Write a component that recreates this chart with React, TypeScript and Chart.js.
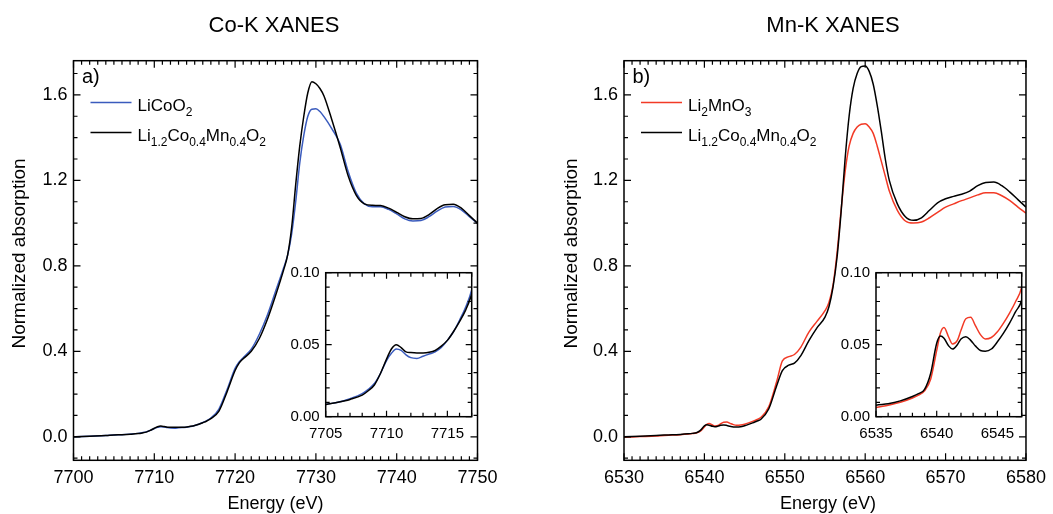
import React, { useEffect, useRef } from "react";
import { Chart, registerables } from "chart.js";

Chart.register(...registerables);
Chart.defaults.font.family = "'Liberation Sans', Arial, sans-serif";
Chart.defaults.color = "#000";

// ---------- Co-K XANES (panel a) ----------
const coEnergy = [
  7700, 7702, 7704, 7705, 7706, 7707, 7708, 7708.5, 7709, 7709.5, 7710,
  7710.4, 7710.8, 7711.2, 7711.6,
  7712, 7712.5, 7713, 7713.5, 7714, 7714.5, 7715, 7715.5, 7716, 7716.5, 7717,
  7718, 7719, 7720, 7720.5, 7721, 7722, 7723, 7724, 7725, 7726,
  7726.5, 7727, 7727.5, 7728, 7728.5, 7729, 7729.5, 7730, 7730.5, 7731,
  7732, 7733, 7734, 7735, 7736, 7737, 7738, 7739, 7740, 7741, 7742, 7743, 7744, 7745, 7746, 7747, 7748, 7749, 7750,
];
const coLiCoO2 = [
  0.0, 0.003, 0.006, 0.0085, 0.01, 0.0125, 0.016, 0.019, 0.023, 0.03, 0.039,
  0.044, 0.047, 0.046, 0.043,
  0.041, 0.0405, 0.042, 0.0435, 0.045, 0.048, 0.053, 0.059, 0.067, 0.076, 0.088,
  0.13, 0.22, 0.32, 0.35, 0.37, 0.41, 0.48, 0.57, 0.68, 0.79,
  0.85, 0.95, 1.1, 1.28, 1.41, 1.5, 1.533, 1.535, 1.522, 1.498,
  1.44, 1.37, 1.24, 1.14, 1.09, 1.077, 1.077, 1.064, 1.043, 1.02, 1.01, 1.012, 1.03, 1.056, 1.075, 1.078, 1.062, 1.03, 0.998,
];
const coLMR = [
  0.0, 0.003, 0.006, 0.0085, 0.01, 0.012, 0.015, 0.018, 0.022, 0.03, 0.04,
  0.047, 0.05, 0.048, 0.045,
  0.0445, 0.0443, 0.0443, 0.0447, 0.046, 0.049, 0.053, 0.059, 0.066, 0.074, 0.085,
  0.12, 0.21, 0.31, 0.345, 0.365, 0.4, 0.46, 0.55, 0.66, 0.78,
  0.85, 0.98, 1.18, 1.36, 1.5, 1.61, 1.662, 1.652, 1.63, 1.595,
  1.48, 1.355, 1.22, 1.13, 1.09, 1.083, 1.082, 1.07, 1.05, 1.03, 1.02, 1.022, 1.04, 1.068, 1.086, 1.088, 1.07, 1.035, 1.0,
];

// ---------- Mn-K XANES (panel b) ----------
const mnEnergy = [
  6530, 6532, 6534, 6535, 6536, 6537, 6538, 6538.5, 6539, 6539.5, 6540,
  6540.3, 6540.6, 6541, 6541.3, 6541.7, 6542, 6542.4, 6542.8, 6543.2, 6543.6, 6544,
  6544.5, 6545, 6545.5, 6546, 6546.5, 6547,
  6548, 6549, 6549.7, 6550.5, 6551.2, 6552, 6553, 6554, 6555,
  6555.5, 6556, 6556.5, 6557, 6557.5, 6558, 6558.5, 6559, 6559.5, 6560, 6560.5, 6561, 6561.5, 6562, 6562.5, 6563,
  6564, 6565, 6566, 6567, 6568, 6569, 6570, 6571, 6572, 6573, 6574, 6575, 6576, 6577, 6578, 6579, 6580,
];
const mnLi2MnO3 = [
  -0.002, 0.001, 0.004, 0.0063, 0.008, 0.01, 0.013, 0.015, 0.018, 0.026, 0.046,
  0.058, 0.062, 0.055, 0.0505, 0.053, 0.06, 0.068, 0.069, 0.063, 0.057, 0.054,
  0.055, 0.059, 0.065, 0.072, 0.08, 0.09,
  0.14, 0.26, 0.355, 0.375, 0.385, 0.42, 0.49, 0.54, 0.59,
  0.63, 0.71, 0.86, 1.06, 1.24, 1.36, 1.42, 1.45, 1.463, 1.465, 1.45, 1.42, 1.36, 1.29, 1.22, 1.15,
  1.06, 1.01, 1.0, 1.005, 1.025, 1.05, 1.075, 1.09, 1.105, 1.118, 1.132, 1.142, 1.142, 1.128, 1.105, 1.075, 1.047,
];
const mnLMR = [
  0.0, 0.003, 0.006, 0.008, 0.009, 0.011, 0.014, 0.016, 0.019, 0.03, 0.051,
  0.056, 0.0545, 0.049, 0.047, 0.05, 0.054, 0.0556, 0.053, 0.049, 0.046, 0.0455,
  0.047, 0.052, 0.058, 0.065, 0.073, 0.081,
  0.13, 0.24, 0.31, 0.335, 0.345, 0.38, 0.45, 0.51, 0.56,
  0.61, 0.7, 0.84, 1.05, 1.3, 1.5, 1.63, 1.7, 1.732, 1.735, 1.71, 1.65, 1.55, 1.43, 1.3, 1.2,
  1.09, 1.03, 1.013, 1.025, 1.06, 1.095, 1.114, 1.125, 1.135, 1.15, 1.175, 1.19, 1.192, 1.175, 1.145, 1.11, 1.075,
];

// ---------- texts ----------
const titleA = "Co-K XANES";
const titleB = "Mn-K XANES";
const xTitle = "Energy (eV)";
const yTitle = "Normalized absorption";
const panelA = "a)";
const panelB = "b)";
// legend labels as [text, isSubscript] pieces
const legLiCoO2: [string, boolean][] = [["LiCoO", false], ["2", true]];
const legLi2MnO3: [string, boolean][] = [["Li", false], ["2", true], ["MnO", false], ["3", true]];
const legLMR: [string, boolean][] = [["Li", false], ["1.2", true], ["Co", false], ["0.4", true], ["Mn", false], ["0.4", true], ["O", false], ["2", true]];

const BLUE = "#3a5bbd";
const RED = "#f23a26";
const BLACK = "#000000";

const W = 1053;
const H = 514;
const FONT = "'Liberation Sans', Arial, sans-serif";

type Spec = {
  area: { l: number; t: number; r: number; b: number };
  xMin: number; xMax: number; xStep: number; xMinor: number;
  yMin: number; yMax: number; yStep: number; yMinor: number;
  yDec: number; tickFont: number; xPad: number; yPad: number;
  majorLen: number; minorLen: number; frameLw: number;
  whiteFill?: boolean;
  extra?: (ctx: CanvasRenderingContext2D, chart: any) => void;
};

function drawRich(ctx: CanvasRenderingContext2D, x: number, baseline: number, parts: [string, boolean][], size: number, subSize: number, subDrop: number) {
  let cx = x;
  ctx.textAlign = "left";
  ctx.textBaseline = "alphabetic";
  for (const [t, s] of parts) {
    ctx.font = `${s ? subSize : size}px ${FONT}`;
    ctx.fillText(t, cx, baseline + (s ? subDrop : 0));
    cx += ctx.measureText(t).width;
  }
}

function makePlugin(spec: Spec) {
  return {
    id: "frameTicks",
    beforeDatasetsDraw(chart: any) {
      if (!spec.whiteFill) return;
      const a = chart.chartArea;
      const ctx = chart.ctx;
      ctx.save();
      ctx.fillStyle = "#fff";
      ctx.fillRect(a.left, a.top, a.right - a.left, a.bottom - a.top);
      ctx.restore();
    },
    afterDraw(chart: any) {
      const ctx: CanvasRenderingContext2D = chart.ctx;
      const a = chart.chartArea;
      const xs = chart.scales.x;
      const ys = chart.scales.y;
      ctx.save();
      ctx.strokeStyle = "#000";
      ctx.lineWidth = spec.frameLw;
      ctx.strokeRect(a.left, a.top, a.right - a.left, a.bottom - a.top);
      ctx.lineWidth = 1.2;
      ctx.beginPath();
      const n0 = Math.ceil(spec.xMin / spec.xMinor - 1e-6);
      const n1 = Math.floor(spec.xMax / spec.xMinor + 1e-6);
      for (let n = n0; n <= n1; n++) {
        const v = n * spec.xMinor;
        const q = v / spec.xStep;
        const maj = Math.abs(q - Math.round(q)) < 1e-6;
        const L = maj ? spec.majorLen : spec.minorLen;
        const p = xs.getPixelForValue(v);
        ctx.moveTo(p, a.bottom); ctx.lineTo(p, a.bottom - L);
        ctx.moveTo(p, a.top); ctx.lineTo(p, a.top + L);
      }
      const m0 = Math.ceil(spec.yMin / spec.yMinor - 1e-6);
      const m1 = Math.floor(spec.yMax / spec.yMinor + 1e-6);
      for (let n = m0; n <= m1; n++) {
        const v = n * spec.yMinor;
        const q = v / spec.yStep;
        const maj = Math.abs(q - Math.round(q)) < 1e-6;
        const L = maj ? spec.majorLen : spec.minorLen;
        const p = ys.getPixelForValue(v);
        ctx.moveTo(a.left, p); ctx.lineTo(a.left + L, p);
        ctx.moveTo(a.right, p); ctx.lineTo(a.right - L, p);
      }
      ctx.stroke();
      ctx.fillStyle = "#000";
      if (spec.extra) spec.extra(ctx, chart);
      ctx.restore();
    },
  };
}

function buildChart(canvas: HTMLCanvasElement, spec: Spec, datasets: any[]) {
  const a = spec.area;
  return new Chart(canvas, {
    type: "line",
    data: { datasets },
    options: {
      animation: false,
      responsive: false,
      devicePixelRatio: 1,
      events: [],
      layout: { padding: { left: 0, top: a.t, right: W - a.r, bottom: 0 } },
      plugins: { legend: { display: false }, tooltip: { enabled: false }, title: { display: false } },
      elements: { point: { radius: 0 } },
      scales: {
        x: {
          type: "linear",
          min: spec.xMin,
          max: spec.xMax,
          grid: { display: false, drawTicks: false },
          border: { display: false },
          ticks: {
            stepSize: spec.xStep,
            includeBounds: false,
            autoSkip: false,
            maxRotation: 0,
            padding: spec.xPad,
            font: { size: spec.tickFont },
            color: "#000",
            callback: (v: any) => Number(v).toFixed(0),
          },
          afterFit: (s: any) => { s.height = H - a.b; },
        },
        y: {
          type: "linear",
          min: spec.yMin,
          max: spec.yMax,
          grid: { display: false, drawTicks: false },
          border: { display: false },
          ticks: {
            stepSize: spec.yStep,
            includeBounds: false,
            autoSkip: false,
            padding: spec.yPad,
            font: { size: spec.tickFont },
            color: "#000",
            callback: (v: any) => Number(v).toFixed(spec.yDec),
          },
          afterFit: (s: any) => { s.width = a.l; },
        },
      },
    } as any,
    plugins: [makePlugin(spec) as any],
  });
}

function series(xs: number[], ys: number[], color: string) {
  return {
    data: xs.map((x, i) => ({ x, y: ys[i] })),
    borderColor: color,
    borderWidth: 1.5,
    pointRadius: 0,
    fill: false,
    cubicInterpolationMode: "monotone",
  };
}

function mainExtra(title: string, titleX: number, plotL: number, plotR: number, yTitleX: number, panel: string, legend1: [string, boolean][], color1: string) {
  return (ctx: CanvasRenderingContext2D, chart: any) => {
    const a = chart.chartArea;
    ctx.fillStyle = "#000";
    ctx.textAlign = "center";
    ctx.textBaseline = "middle";
    ctx.font = `22px ${FONT}`;
    ctx.fillText(title, titleX, 26);
    ctx.font = `18px ${FONT}`;
    ctx.fillText(xTitle, (plotL + plotR) / 2, 504);
    ctx.save();
    ctx.font = `19px ${FONT}`;
    ctx.translate(yTitleX, (a.top + a.bottom) / 2 - 7);
    ctx.rotate(-Math.PI / 2);
    ctx.fillText(yTitle, 0, 0);
    ctx.restore();
    ctx.textAlign = "left";
    ctx.textBaseline = "alphabetic";
    ctx.font = `20px ${FONT}`;
    ctx.fillText(panel, plotL + 8.5, 83);
    // legend
    ctx.lineWidth = 1.5;
    ctx.strokeStyle = color1;
    ctx.beginPath();
    ctx.moveTo(plotL + 17, 102.5); ctx.lineTo(plotL + 58, 102.5);
    ctx.stroke();
    ctx.strokeStyle = BLACK;
    ctx.beginPath();
    ctx.moveTo(plotL + 17, 132.5); ctx.lineTo(plotL + 58, 132.5);
    ctx.stroke();
    ctx.fillStyle = "#000";
    drawRich(ctx, plotL + 64, 110.5, legend1, 17, 12, 5);
    drawRich(ctx, plotL + 64, 140.5, legLMR, 17, 12, 5);
  };
}

export default function App() {
  const c1 = useRef<HTMLCanvasElement>(null);
  const c2 = useRef<HTMLCanvasElement>(null);
  const c3 = useRef<HTMLCanvasElement>(null);
  const c4 = useRef<HTMLCanvasElement>(null);

  useEffect(() => {
    document.body.style.margin = "0";
    document.body.style.overflow = "hidden";
    const charts: Chart[] = [];
    const mainBase = {
      yMin: -0.11, yMax: 1.76, yStep: 0.4, yMinor: 0.1, yDec: 1,
      xStep: 10, xMinor: 1, tickFont: 18, xPad: 7, yPad: 6,
      majorLen: 7, minorLen: 4, frameLw: 1.5,
    };
    const insetBase = {
      yMin: 0, yMax: 0.1, yStep: 0.05, yMinor: 0.01, yDec: 2,
      xStep: 5, xMinor: 1, tickFont: 15, xPad: 8, yPad: 6,
      majorLen: 6, minorLen: 4, frameLw: 1.5, whiteFill: true,
    };
    // panel a
    charts.push(buildChart(c1.current!, {
      ...mainBase,
      area: { l: 73.5, t: 60.7, r: 477.5, b: 460.3 },
      xMin: 7700, xMax: 7750,
      extra: mainExtra(titleA, 274, 73.5, 477.5, 20, panelA, legLiCoO2, BLUE),
    }, [series(coEnergy, coLMR, BLACK), series(coEnergy, coLiCoO2, BLUE)]));
    // panel b
    charts.push(buildChart(c2.current!, {
      ...mainBase,
      area: { l: 624, t: 60.7, r: 1032, b: 460.3 },
      xMin: 6530, xMax: 6580,
      extra: mainExtra(titleB, 833, 624, 1032, 572, panelB, legLi2MnO3, RED),
    }, [series(mnEnergy, mnLMR, BLACK), series(mnEnergy, mnLi2MnO3, RED)]));
    // inset a
    charts.push(buildChart(c3.current!, {
      ...insetBase,
      area: { l: 325.7, t: 272.7, r: 471.7, b: 416.7 },
      xMin: 7705, xMax: 7717,
    }, [series(coEnergy, coLMR, BLACK), series(coEnergy, coLiCoO2, BLUE)]));
    // inset b
    charts.push(buildChart(c4.current!, {
      ...insetBase,
      area: { l: 876, t: 272.7, r: 1021.7, b: 416.7 },
      xMin: 6535, xMax: 6547,
    }, [series(mnEnergy, mnLMR, BLACK), series(mnEnergy, mnLi2MnO3, RED)]));
    return () => charts.forEach((c) => c.destroy());
  }, []);

  const cs: React.CSSProperties = { position: "absolute", left: 0, top: 0, width: W, height: H };
  return (
    <div style={{ position: "relative", width: W, height: H, background: "#fff" }}>
      <canvas ref={c1} width={W} height={H} style={cs} />
      <canvas ref={c2} width={W} height={H} style={cs} />
      <canvas ref={c3} width={W} height={H} style={cs} />
      <canvas ref={c4} width={W} height={H} style={cs} />
    </div>
  );
}
